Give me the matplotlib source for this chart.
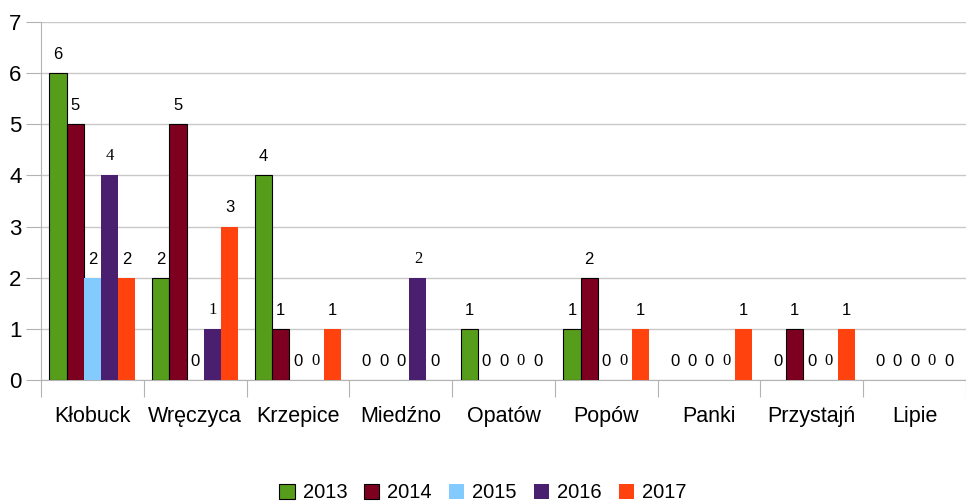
import matplotlib
matplotlib.use("Agg")
import matplotlib.pyplot as plt
import numpy as np

plt.rcParams["font.family"] = ["Liberation Sans", "DejaVu Sans"]

categories = ["Kłobuck", "Wręczyca", "Krzepice", "Miedźno", "Opatów",
              "Popów", "Panki", "Przystajń", "Lipie"]
years = ["2013", "2014", "2015", "2016", "2017"]
v2013 = [6, 2, 4, 0, 1, 1, 0, 0, 0]
v2014 = [5, 5, 1, 0, 0, 2, 0, 1, 0]
v2015 = [2, 0, 0, 0, 0, 0, 0, 0, 0]
v2016 = [4, 1, 0, 2, 0, 0, 0, 0, 0]
v2017 = [2, 3, 1, 0, 0, 1, 1, 1, 0]
series = [v2013, v2014, v2015, v2016, v2017]
colors = ["#579D1C", "#7E0021", "#83CAFF", "#4B1F6F", "#FF420E"]
edged = [True, True, False, False, False]

fig = plt.figure(figsize=(9.66, 5.03), dpi=100)
ax = fig.add_axes([41 / 966, 1 - 380 / 503, 925 / 966, 358 / 503])

x = np.arange(len(categories))
width = 0.167
for i, (vals, col, edge) in enumerate(zip(series, colors, edged)):
    pos = x + (i - 2) * width
    lw = [0.8 if (edge and v > 0) else 0 for v in vals]
    ax.bar(pos, vals, width, color=col, label=years[i],
           edgecolor="black", linewidth=lw, zorder=3)
    fam = ["Liberation Serif", "DejaVu Serif"] if i == 3 else ["Liberation Sans", "DejaVu Sans"]
    for px, v in zip(pos, vals):
        ax.annotate(str(v), (px, v), xytext=(0, 8), textcoords="offset points",
                    ha="center", va="bottom", fontsize=12, family=fam)

ax.set_xlim(-0.5, len(categories) - 0.5)
ax.set_ylim(0, 7)
ax.set_yticks(range(8))
ax.set_xticks(np.arange(len(categories) + 1) - 0.5)
ax.set_xticklabels([])
ax.set_xticks(x, minor=True)
ax.set_xticklabels(categories, minor=True, fontsize=15.5)
ax.tick_params(axis="x", which="major", length=12, color="#b3b3b3")
ax.tick_params(axis="x", which="minor", length=0, pad=19)
ax.tick_params(axis="y", length=11, color="#b3b3b3", labelsize=16, pad=3)
ax.yaxis.grid(True, color="#c8c8c8", linewidth=1, zorder=0)
for s in ["top", "right"]:
    ax.spines[s].set_visible(False)
for s in ["left", "bottom"]:
    ax.spines[s].set_color("#b3b3b3")

leg = fig.legend(loc="lower center", ncol=5, frameon=False, fontsize=14.5,
                 bbox_to_anchor=(0.5, -0.035), handlelength=0.75, handleheight=0.75,
                 handletextpad=0.4, columnspacing=0.85)
for h, edge in zip(leg.legend_handles, edged):
    h.set_edgecolor("black" if edge else "none")
    h.set_linewidth(0.8 if edge else 0)

fig.savefig("out.png", dpi=100)
